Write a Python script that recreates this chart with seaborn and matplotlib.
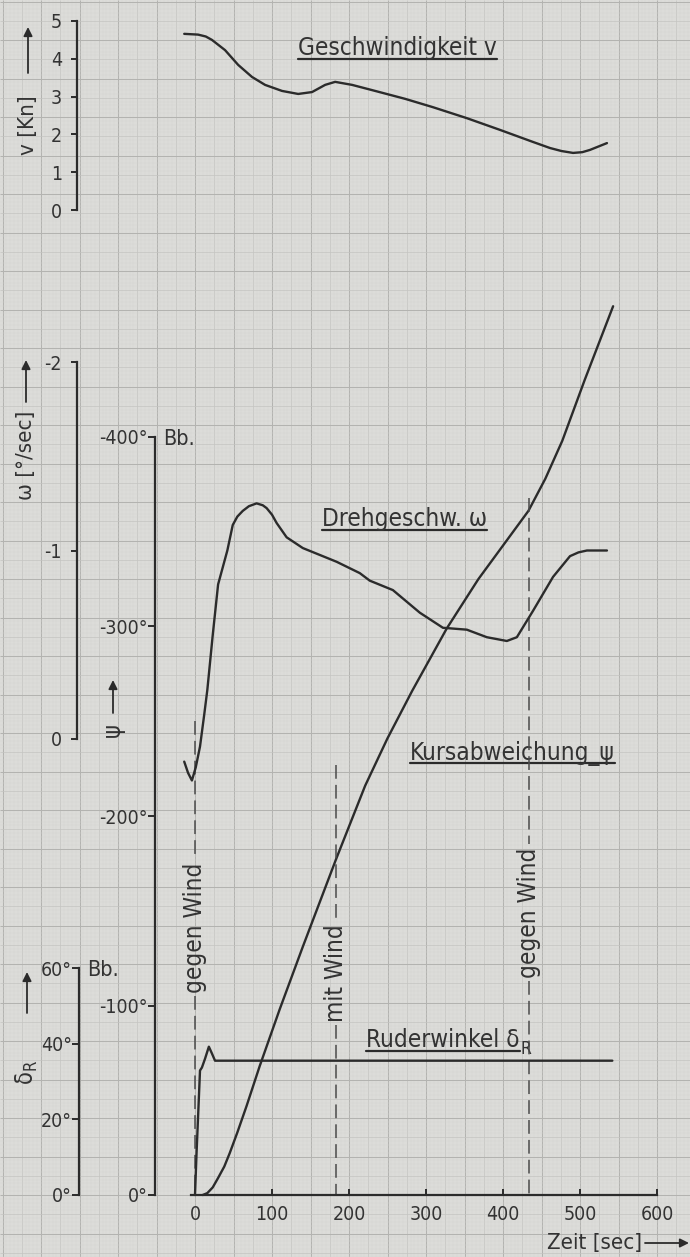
import numpy as np
import matplotlib
matplotlib.use("Agg")
import matplotlib.pyplot as plt
import seaborn as sns

# ---- values --------------------------------------------------------------
# Geschwindigkeit v [Kn] over Zeit [sec]
zeit_v = [-14, 4, 14, 22, 39, 56, 74, 91, 113, 134, 152, 169, 182, 204, 234,
          273, 309, 353, 396, 439, 461, 476, 491, 503, 513, 535]
geschw_v = [4.66, 4.64, 4.59, 4.50, 4.23, 3.84, 3.52, 3.31, 3.15, 3.07, 3.12,
            3.31, 3.39, 3.31, 3.15, 2.94, 2.72, 2.43, 2.12, 1.80, 1.64, 1.56,
            1.51, 1.53, 1.59, 1.77]

# Drehgeschwindigkeit omega [deg/sec]
zeit_w = [-14, -9, -4, 1, 6.5, 12, 16, 23, 30, 42, 49, 55, 62, 70, 80, 88,
          93, 100, 106, 119, 140, 184, 214, 227, 257, 292, 322, 353, 379, 405,
          418, 439, 465, 487, 498, 509, 535]
dreh_w = [0.12, 0.18, 0.22, 0.15, 0.04, -0.13, -0.26, -0.55, -0.82, -1.00,
          -1.135, -1.18, -1.21, -1.235, -1.25, -1.24, -1.225, -1.19, -1.146,
          -1.07, -1.013, -0.94, -0.88, -0.84, -0.79, -0.67, -0.59, -0.58,
          -0.54, -0.52, -0.54, -0.68, -0.86, -0.97, -0.99, -1.00, -1.00]

# Kursabweichung psi [deg]
zeit_psi = [10, 16, 23, 30, 38, 45, 55, 67, 84, 110, 140, 183, 221, 250, 282,
            327, 368, 433, 455, 477, 506, 543]
kurs_psi = [0, -1, -4, -9, -15, -22, -33, -47, -68, -98, -131, -177, -216,
            -241, -266, -299, -325, -361, -378, -398, -430, -469]

# Ruderwinkel delta_R [deg]
zeit_d = [0, 2, 6.5, 9, 13, 18, 22, 26, 35, 542]
ruder_d = [0, 11, 32.9, 33.7, 36, 39.2, 37.4, 35.5, 35.5, 35.5]

# wind events (time, upper end of the dashed line in psi degrees)
wind_zeit = [0, 183, 434]
wind_oben = [-250, -227, -368]
wind_text = ["gegen Wind", "mit Wind", "gegen Wind"]

zeit_ticks = [0, 100, 200, 300, 400, 500, 600]
v_ticks = [0, 1, 2, 3, 4, 5]
w_ticks = [0, -1, -2]
psi_ticks = [0, -100, -200, -300, -400]
d_ticks = [0, 20, 40, 60]

# ---- layout (pixels of the 690 x 1257 sheet) -----------------------------
W, H = 690, 1257
T0_PX, T_SCALE = 195, 0.77          # x of t = 0, pixels per second
PAPER = "#dcdcd9"
INK = "#2b2b2b"
TEXT = "#333333"
PT = 0.72                            # points per pixel at dpi 100

sns.set_theme(style="white")
plt.rcParams["font.family"] = ["DejaVu Sans"]
plt.rcParams["font.stretch"] = "condensed"
plt.rcParams["mathtext.fontset"] = "dejavusans"


def x_limits():
    return (-T0_PX / T_SCALE, (W - T0_PX) / T_SCALE)


def y_limits(px_a, val_a, px_b, val_b):
    # limits so that value val_a sits on pixel row px_a, val_b on px_b
    k = (px_b - px_a) / (val_b - val_a)
    return val_a + (H - px_a) / k, val_a - px_a / k


def paper_lines(ax, k, pos, vertical):
    styles = [
        (k % 5 != 0, "#d3d3d0", 0.3),
        ((k % 5 == 0) & (k % 10 != 0), "#c4c4c1", 0.5),
        (k % 10 == 0, "#b3b3b0", 0.75),
    ]
    for sel, col, lw in styles:
        if vertical:
            ax.vlines(pos[sel], 0, H, colors=col, linewidth=lw)
        else:
            ax.hlines(pos[sel], 0, W, colors=col, linewidth=lw)


def data_axes(fig, name, ylim, z):
    ax = fig.add_axes([0, 0, 1, 1], label=name)
    ax.set_facecolor("none")
    ax.set_zorder(z)
    for s in ax.spines.values():
        s.set_visible(False)
    ax.grid(False)
    ax.tick_params(bottom=False, labelbottom=False, left=False,
                   labelleft=False)
    ax._lims = (x_limits(), ylim)
    return ax


def fix_limits(ax):
    ax.set_xlim(*ax._lims[0])
    ax.set_ylim(*ax._lims[1])


def y_spine(ax, x_px, bounds, ticks, labels, tick_px=6, pad_px=9):
    sp = ax.spines["left"]
    sp.set_visible(True)
    sp.set_position(("axes", x_px / W))
    sp.set_bounds(*bounds)
    sp.set_color(INK)
    sp.set_linewidth(1.6)
    ax.set_yticks(ticks)
    ax.set_yticklabels(labels)
    ax.tick_params(axis="y", left=True, labelleft=True, direction="out",
                   length=tick_px * PT, width=1.4, color=INK,
                   pad=pad_px * PT, labelsize=14, labelcolor=TEXT)


fig = plt.figure(figsize=(W / 100, H / 100), dpi=100)
fig.patch.set_facecolor(PAPER)

bg = fig.add_axes([0, 0, 1, 1], label="paper")
bg.set_zorder(0)
bg.set_facecolor(PAPER)
bg.set_xlim(0, W)
bg.set_ylim(H, 0)
bg.axis("off")
kx = np.arange(-51, 130)
paper_lines(bg, kx, T0_PX + 3.85 * kx, True)
ky = np.arange(-17, 312)
paper_lines(bg, ky, 1195 - 3.85 * ky, False)

ax_psi = data_axes(fig, "psi", y_limits(1195, 0, 437, -400), 2)
ax_v = data_axes(fig, "v", y_limits(210, 0, 21, 5), 3)
ax_w = data_axes(fig, "w", y_limits(739, 0, 362, -2), 4)
ax_d = data_axes(fig, "d", y_limits(1195, 0, 968, 60), 5)

line_kw = dict(color=INK, linewidth=1.7, estimator=None, sort=False,
               legend=False)
sns.lineplot(x=zeit_v, y=geschw_v, ax=ax_v, **line_kw)
sns.lineplot(x=zeit_w, y=dreh_w, ax=ax_w, **line_kw)
sns.lineplot(x=zeit_psi, y=kurs_psi, ax=ax_psi, **line_kw)
sns.lineplot(x=zeit_d, y=ruder_d, ax=ax_d, **line_kw)

for ax in (ax_psi, ax_v, ax_w, ax_d):
    fix_limits(ax)
    ax.set_xlabel("")
    ax.set_ylabel("")

y_spine(ax_v, 77, (0, 5), v_ticks, [str(t) for t in v_ticks])
y_spine(ax_w, 77, (-2, 0), w_ticks, ["0", "-1", "-2"])
y_spine(ax_psi, 155, (-400, 0), psi_ticks,
        [f"{t}°" for t in psi_ticks], tick_px=7, pad_px=0)
y_spine(ax_d, 79, (0, 60), d_ticks, [f"{t}°" for t in d_ticks],
        tick_px=7, pad_px=0)

# Zeit axis on the psi axes (psi = 0 is the time line)
sp = ax_psi.spines["bottom"]
sp.set_visible(True)
sp.set_position(("data", 0))
sp.set_bounds(-5, 600)
sp.set_color(INK)
sp.set_linewidth(1.6)
ax_psi.set_xticks(zeit_ticks)
ax_psi.set_xticklabels([str(t) for t in zeit_ticks])
ax_psi.tick_params(axis="x", bottom=True, labelbottom=True, direction="in",
                   length=6 * PT, width=1.4, color=INK, pad=10 * PT,
                   labelsize=14, labelcolor=TEXT)
fix_limits(ax_psi)

# wind labels on the event lines
wind_mitte = [-141, -117, -149]
wind_labels = []
for t, ym, txt in zip(wind_zeit, wind_mitte, wind_text):
    wind_labels.append(ax_psi.text(t, ym, txt, rotation=90, ha="center",
                                   va="center", fontsize=17.5, color=TEXT))

# curve titles (underlined afterwards)
titles = [
    bg.text(298, 55, "Geschwindigkeit v", fontsize=17.5, color=TEXT),
    bg.text(322, 526, "Drehgeschw. ω", fontsize=17.5, color=TEXT),
    bg.text(410, 760, "Kursabweichung_ψ", fontsize=17.5, color=TEXT),
    bg.text(366, 1047, "Ruderwinkel δ", fontsize=17.5, color=TEXT),
]
underline_y = [59, 530, 763, 1051]

# axis names with arrows
arrow_kw = dict(arrowstyle="-|>", color=INK, lw=1.3, mutation_scale=13,
                shrinkA=0, shrinkB=0)
bg.text(28, 125, "v [Kn]", rotation=90, ha="center", va="center",
        fontsize=16, color=TEXT)
bg.annotate("", xy=(28, 27), xytext=(28, 73), arrowprops=arrow_kw)
bg.text(26, 455, "ω [°/sec]", rotation=90, ha="center", va="center",
        fontsize=16, color=TEXT)
bg.annotate("", xy=(26, 360), xytext=(26, 402), arrowprops=arrow_kw)
bg.text(113, 730, "ψ", rotation=90, ha="center", va="center",
        fontsize=17, color=TEXT)
bg.annotate("", xy=(113, 680), xytext=(113, 713), arrowprops=arrow_kw)
bg.text(27, 1072, r"$\mathregular{\delta_R}$", rotation=90, ha="center",
        va="center", fontsize=17, color=TEXT)
bg.annotate("", xy=(27, 972), xytext=(27, 1013), arrowprops=arrow_kw)
bg.text(163, 445, "Bb.", fontsize=15.5, color=TEXT)
bg.text(87, 976, "Bb.", fontsize=15.5, color=TEXT)
bg.text(547, 1243, "Zeit [sec]", fontsize=16, va="center", color=TEXT)
bg.annotate("", xy=(689, 1243), xytext=(645, 1243), arrowprops=arrow_kw)

fig.canvas.draw()
renderer = fig.canvas.get_renderer()

for t, y in zip(titles, underline_y):
    bb = t.get_window_extent(renderer)
    bg.plot([bb.x0, bb.x1], [y, y], color=INK, linewidth=1.6)
    if t.get_text().endswith("δ"):
        bg.text(bb.x1 + 1, y + 3, "R", fontsize=12.5, color=TEXT)

# dashed event lines, broken where the labels sit
to_psi = ax_psi.transData.inverted()
for t, top, lab in zip(wind_zeit, wind_oben, wind_labels):
    bb = lab.get_window_extent(renderer)
    lab_hi = to_psi.transform((0, bb.y1 + 3))[1]
    lab_lo = to_psi.transform((0, bb.y0 - 3))[1]
    for a, b in ((top, lab_hi), (lab_lo, 0)):
        ax_psi.plot([t, t], [a, b], color="#4a4a4a", linewidth=1.1,
                    dashes=(9, 4))
fix_limits(ax_psi)

fig.savefig("out.png", dpi=100, facecolor=PAPER)
